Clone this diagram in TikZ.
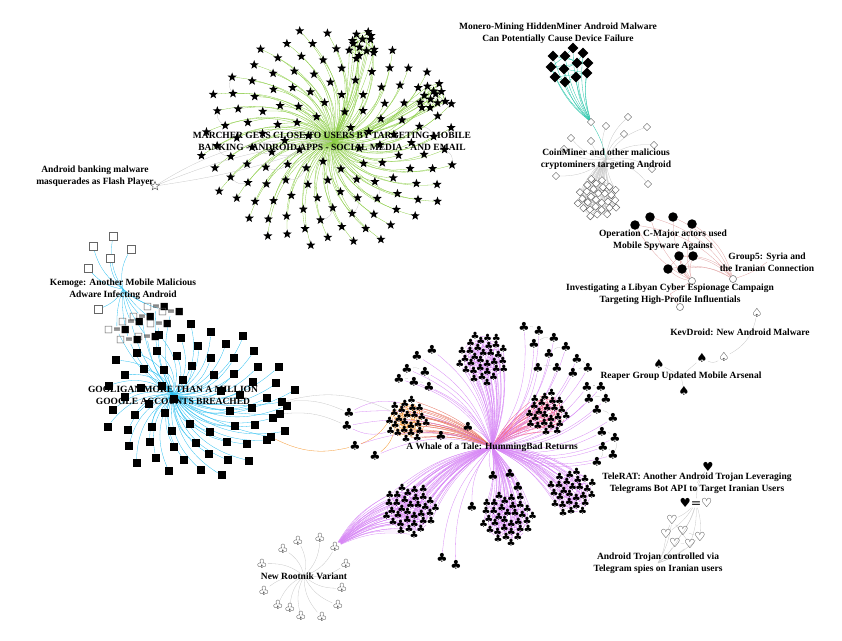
\documentclass[tikz,border=0pt]{standalone}
\usepackage{fontspec}
\setmainfont{Liberation Serif}
\newfontfamily\symfont{DejaVu Sans}
\usetikzlibrary{calc,shapes.geometric}
\pgfdeclarelayer{bg}
\pgfdeclarelayer{fg}
\pgfsetlayers{bg,main,fg}
\definecolor{marGreen}{RGB}{140,205,70}
\definecolor{gooBlue}{RGB}{40,190,240}
\definecolor{hbViolet}{RGB}{215,135,245}
\definecolor{hbOrange}{RGB}{245,150,45}
\definecolor{hbRed}{RGB}{230,105,85}
\definecolor{hbPink}{RGB}{245,95,140}
\definecolor{minerTeal}{RGB}{30,195,165}
\definecolor{cmRose}{RGB}{225,165,165}

\tikzset{
  link/.style={line width=0.3pt},
  marLink/.style={link, marGreen},
  gooLink/.style={link, gooBlue},
  hbLink/.style={link, hbViolet},
  orLink/.style={link, hbOrange},
  redLink/.style={link, hbRed},
  pinkLink/.style={link, hbPink},
  tealLink/.style={link, minerTeal},
  roseLink/.style={link, cmRose},
  greyLink/.style={link, black!22},
  glyph/.style={inner sep=0pt, font=\symfont\fontsize{12.5}{12.5}\selectfont},
  starN/.style={star, star points=5, star point ratio=2.4, minimum size=9.5pt, inner sep=0pt, fill=black},
  ostarN/.style={starN, fill=white, draw=black!70, line width=0.4pt},
  sqN/.style={rectangle, fill=black, minimum size=8pt, inner sep=0pt},
  osqN/.style={rectangle, draw=black!60, fill=white, minimum size=7.5pt, inner sep=0pt, line width=0.5pt},
  diaN/.style={diamond, fill=black, minimum size=11pt, inner sep=0pt},
  odiaN/.style={diamond, draw=black!65, fill=white, minimum size=7.5pt, inner sep=0pt, line width=0.4pt},
  dotN/.style={circle, fill=black, minimum size=9.5pt, inner sep=0pt},
  odotN/.style={circle, draw=black!60, fill=white, minimum size=7pt, inner sep=0pt, line width=0.5pt},
  clubN/.style={glyph, execute at begin node={♣}},
  clubS/.style={clubN, font=\symfont\fontsize{10}{10}\selectfont},
  oclubN/.style={glyph, execute at begin node={♧}},
  spadeN/.style={glyph, execute at begin node={♠}},
  ospadeN/.style={glyph, execute at begin node={♤}},
  heartN/.style={glyph, execute at begin node={♥}},
  oheartN/.style={glyph, execute at begin node={♡}},
  pairN/.style={glyph, font=\symfont\fontsize{9.5}{9.5}\selectfont, execute at begin node={\textcolor{black!60}{□}=■}},
  hpairN/.style={glyph, execute at begin node={♥=♡}},
  lbl/.style={font=\bfseries\fontsize{9.5}{12}\selectfont, align=center, inner sep=0pt},
}

% sunflower spread: prefix, cx, cy, a, b, count, node style
\newcommand{\flower}[7]{%
  \foreach \k in {4,...,#6}{%
    \pgfmathsetmacro\ang{360*mod(\k*0.381966,1)}%
    \pgfmathsetmacro\px{#2+#4*sqrt(\k/#6)*cos(\ang)}%
    \pgfmathsetmacro\py{#3+#5*sqrt(\k/#6)*sin(\ang)}%
    \node[#7] (#1-\k) at (\px,\py) {};
  }%
}
% dense ball: prefix, cx, cy, radius, count, node style
\newcommand{\clump}[6]{%
  \foreach \k in {1,...,#5}{%
    \pgfmathsetmacro\ang{360*mod(\k*0.381966,1)}%
    \pgfmathsetmacro\px{#2+#4*sqrt((\k-0.5)/#5)*cos(\ang)}%
    \pgfmathsetmacro\py{#3+#4*sqrt((\k-0.5)/#5)*sin(\ang)}%
    \node[#6] (#1-\k) at (\px,\py) {};
  }%
}
% web inside a ball: prefix, count, link style
\newcommand{\mesh}[3]{%
  \foreach \k in {4,...,#2}{%
    \pgfmathtruncatemacro\ka{\k-1}%
    \pgfmathtruncatemacro\kb{\k-2}%
    \pgfmathtruncatemacro\kc{\k-3}%
    \draw[#3] (#1-\k) -- (#1-\ka) (#1-\k) -- (#1-\kb) (#1-\k) -- (#1-\kc);
  }%
}

\begin{document}
\begin{tikzpicture}[x=1pt,y=-1pt]
\useasboundingbox (0,0) rectangle (842,640);

\begin{pgfonlayer}{fg}
\node[lbl] (marcher) at (332,141) {MARCHER GETS CLOSE TO USERS BY TARGETING MOBILE\\BANKING - ANDROID APPS - SOCIAL MEDIA - AND EMAIL};
\node[lbl] (flash) at (95,176) {Android banking malware\\masquerades as Flash Player};
\node[lbl] (miner) at (558,33) {Monero-Mining HiddenMiner Android Malware\\Can Potentially Cause Device Failure};
\node[lbl] (coin) at (606,159) {CoinMiner and other malicious\\cryptominers targeting Android};
\node[lbl] (cmajor) at (663,240) {Operation C-Major actors used\\Mobile Spyware Against};
\node[lbl] (group5) at (767,262) {Group5: Syria and\\the Iranian Connection};
\node[lbl] (libya) at (670,294) {Investigating a Libyan Cyber Espionage Campaign\\Targeting High-Profile Influentials};
\node[lbl] (kev) at (740,332) {KevDroid: New Android Malware};
\node[lbl] (reaper) at (681,376) {Reaper Group Updated Mobile Arsenal};
\node[lbl] (kemoge) at (123,289) {Kemoge: Another Mobile Malicious\\Adware Infecting Android};
\node[lbl] (goo) at (173,395) {GOOLIGAN MORE THAN A MILLION\\GOOGLE ACCOUNTS BREACHED};
\node[lbl] (hb) at (492,447) {A Whale of a Tale: HummingBad Returns};
\node[lbl] (telerat) at (697,483) {TeleRAT: Another Android Trojan Leveraging\\Telegrams Bot API to Target Iranian Users};
\node[lbl] (trojan) at (658,563) {Android Trojan controlled via\\Telegram spies on Iranian users};
\node[lbl] (rootnik) at (304,576) {New Rootnik Variant};
\end{pgfonlayer}

% Marcher
\flower{mar}{330}{139}{130}{112}{140}{starN}
\clump{marA}{362}{45}{15}{10}{starN}
\clump{marB}{433}{97}{15}{10}{starN}
\node[ostarN] (flash-s) at (155,186) {};

% HiddenMiner and CoinMiner
\node[odiaN] (coin-gate) at (591,122) {};
\foreach \x/\y [count=\n] in {573/48,583/53,553/56,565/56,577/63,588/63,551/67,564/69,587/73,555/77,565/82,576/77}
  \node[diaN] (hm-\n) at (\x,\y) {};
\foreach \x/\y [count=\n] in {628/117,647/127,606/126,624/134,571/138,591/141,654/145,564/149,556/176,652/169,648/184}
  \node[odiaN] (cm-\n) at (\x,\y) {};
\clump{coinC}{598}{198}{21}{30}{odiaN}

% C-Major, Group5, Libya
\foreach \x/\y [count=\n] in {650/217,673/217,635/225,692/224,679/256,693/256,668/269,682/269}
  \node[dotN] (cmj-\n) at (\x,\y) {};
\node[odotN] (g5-o) at (733,279) {};
\node[odotN] (ly-o) at (692,281) {};
\node[odotN] (ly-o2) at (680,307) {};

% KevDroid and Reaper
\node[ospadeN] (kev-o1) at (757,313) {};
\node[ospadeN] (kev-o2) at (724,357) {};
\node[spadeN] (rp-1) at (702,358) {};
\node[spadeN] (rp-2) at (659,364) {};
\node[spadeN] (rp-3) at (684,391) {};

% Kemoge and Gooligan
\foreach \x/\y [count=\n] in {113/236,93/246,131/249,110/258,88/268,98/309}
  \node[osqN] (kem-\n) at (\x,\y) {};
\foreach \x/\y [count=\n] in {148/307,163/312,134/317,123/322,151/324,109/330,139/337,121/340}
  \node[pairN] (pair-\n) at (\x+8,\y) {};
\flower{goo}{198}{402}{100}{78}{70}{sqN}
\node[sqN] (goo-x1) at (282,402) {};
\node[sqN] (goo-x2) at (280,414) {};
\node[sqN] (goo-x3) at (271,437) {};

% HummingBad
\clump{hbP}{483}{358}{25}{32}{clubS}
\clump{hbO}{407}{420}{21}{24}{clubS}
\clump{hbK}{547}{413}{21}{24}{clubS}
\clump{hbQ}{410}{510}{26}{34}{clubS}
\clump{hbR}{507}{518}{26}{34}{clubS}
\clump{hbS}{572}{492}{23}{27}{clubS}
\foreach \x/\y [count=\n] in {417/356,432/350,407/369,425/372,399/379,414/382,429/387,524/327,539/331,534/344,554/338,549/354,566/347,538/368,557/368,577/359,573/373,588/368,587/387,601/387,589/399,606/399,597/410,613/418,602/432,615/438,603/447,613/455,597/462,349/413,347/426,355/446,375/456,441/436,468/427,493/476,510/474,518/487,472/507,442/558,456/565}
  \node[clubN] (hbs-\n) at (\x,\y) {};

% Rootnik
\foreach \x/\y [count=\n] in {262/564,283/549,298/541,320/538,335/547,346/564,342/588,338/605,322/617,301/616,290/608,278/605,264/591}
  \node[oclubN] (rt-\n) at (\x,\y) {};

% TeleRAT and Telegram trojan
\node[heartN] (tr-h) at (708,467) {};
\node[hpairN] (tr-p) at (696,503) {};
\foreach \x/\y [count=\n] in {672/520,666/534,683/531,700/537,675/543,690/544}
  \node[oheartN] (tr-o\n) at (\x,\y) {};

\begin{pgfonlayer}{bg}
\foreach \k in {4,...,140} \draw[marLink] (marcher.center) to[bend right=28] (mar-\k);
\foreach \k in {1,...,10}
  \draw[marLink] (marcher.center) to[bend right=10] (marA-\k) (marcher.center) to[bend right=10] (marB-\k);
\mesh{marA}{10}{marLink}
\mesh{marB}{10}{marLink}
\foreach \k in {9,14,22,30,37,45,53,60,68,77,85,93,101,110}{
  \pgfmathtruncatemacro\kn{\k+21}
  \draw[greyLink] (mar-\k) to[bend left=30] (mar-\kn);
}
\draw[greyLink] (flash-s) to[bend left=8] (marcher.center);
\draw[greyLink] (flash-s) to[bend left=18] (marcher.center);
\draw[greyLink] (flash-s) to[bend right=6] (marcher.center);

\foreach \n in {1,...,12} \draw[tealLink] (hm-\n) to[bend right=12] (coin-gate);
\foreach \n in {4,...,12}{
  \pgfmathtruncatemacro\na{\n-1}
  \pgfmathtruncatemacro\nb{\n-3}
  \draw[tealLink] (hm-\n) -- (hm-\na) (hm-\n) -- (hm-\nb);
}
\draw[tealLink] (coin-gate) to[bend left=10] (coin.center);
\foreach \n in {1,...,11} \draw[greyLink] (coin.center) to[bend left=20] (cm-\n);
\foreach \k in {1,...,30} \draw[greyLink] (coin.center) to[bend right=12] (coinC-\k);
\mesh{coinC}{30}{greyLink}

\foreach \n in {1,...,8}{
  \draw[roseLink] (cmj-\n) to[bend left=20] (g5-o);
  \draw[roseLink] (cmj-\n) to[bend right=15] (ly-o);
}
\draw[roseLink] (cmj-5) -- (cmj-6) -- (cmj-8) -- (cmj-7) -- (cmj-5) -- (cmj-8);
\draw[roseLink] (g5-o) to[bend right=10] (group5.center);
\draw[roseLink] (ly-o) -- (libya.center) -- (ly-o2);

\draw[greyLink] (kev-o1) to[bend left=25] (kev-o2);
\draw[greyLink] (kev-o2) to[bend left=30] (rp-1);
\draw[greyLink] (rp-1) -- (reaper.center) -- (rp-2) (reaper.center) -- (rp-3);

\foreach \n in {1,...,6} \draw[gooLink] (kemoge.center) to[bend left=20] (kem-\n);
\foreach \n in {1,...,8}
  \draw[gooLink] (kemoge.center) to[bend right=10] (pair-\n) (goo.center) to[bend left=15] (pair-\n);
\foreach \k in {4,...,70} \draw[gooLink] (goo.center) to[bend right=28] (goo-\k);
\foreach \n in {1,2,3} \draw[gooLink] (goo.center) to[bend right=12] (goo-x\n);

\foreach \k in {1,...,32} \draw[hbLink] (hb.center) to[bend right=12] (hbP-\k);
\foreach \k in {1,...,24} \draw[redLink] (hb.center) to[bend right=12] (hbO-\k);
\foreach \k in {1,...,24} \draw[pinkLink] (hb.center) to[bend left=12] (hbK-\k);
\foreach \k in {1,...,34} \draw[hbLink] (hb.center) to[bend right=15] (hbQ-\k);
\foreach \k in {1,...,34} \draw[hbLink] (hb.center) to[bend left=12] (hbR-\k);
\foreach \k in {1,...,27} \draw[hbLink] (hb.center) to[bend left=15] (hbS-\k);
\mesh{hbP}{32}{hbLink}
\mesh{hbO}{24}{orLink}
\mesh{hbK}{24}{pinkLink}
\mesh{hbQ}{34}{hbLink}
\mesh{hbR}{34}{hbLink}
\mesh{hbS}{27}{hbLink}
\foreach \n in {1,...,41} \draw[hbLink] (hb.center) to[bend right=20] (hbs-\n);
\foreach \a/\b in {3/4,3/5,5/6,6/7,4/7,8/9,10/11,12/13,14/15,16/18,17/18,19/20,19/21,20/22,21/22,23/24,25/26,27/28,26/28,27/29}
  \draw[greyLink] (hbs-\a) to[bend left=20] (hbs-\b);
\draw[greyLink] (goo-x1) to[bend left=15] (hbs-30);
\draw[greyLink] (goo-x2) to[bend left=15] (hbs-31);
\draw[greyLink] (goo-x1) to[bend left=20] (hbO-12);
\draw[orLink] (goo-x3) to[bend right=20] (hbs-32);
\draw[orLink] (hbs-32) to[bend right=25] (hbO-20);
\draw[orLink] (hbs-33) to[bend right=20] (hbO-9);
\draw[hbLink] (hbs-30) to[bend left=20] (hbO-15);
\draw[hbLink] (hbs-31) to[bend right=20] (hbO-22);

\foreach \n in {1,...,13} \draw[greyLink] (rootnik.center) to[bend right=20] (rt-\n);
\foreach \k in {1,...,34} \draw[hbLink] (rt-5) to[bend left=15] (hbQ-\k);

\foreach \n in {1,...,6}
  \draw[greyLink] (tr-p) to[bend left=10] (tr-o\n) (trojan.center) to[bend right=10] (tr-o\n);
\draw[greyLink] (tr-h) to[bend right=15] (tr-p);
\draw[greyLink] (tr-h) -- (telerat.center);
\draw[greyLink] (tr-o1) -- (tr-o3) -- (tr-o4) -- (tr-o6) -- (tr-o5) -- (tr-o2) -- (tr-o1) -- (tr-o6);
\end{pgfonlayer}
\end{tikzpicture}
\end{document}
